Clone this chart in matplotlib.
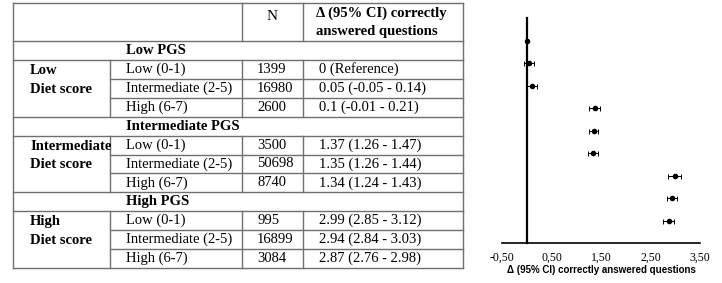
import matplotlib.pyplot as plt
from matplotlib.ticker import FuncFormatter

# table content
pgs_groups = ['Low PGS', 'Intermediate PGS', 'High PGS']
diet_groups = ['Low', 'Intermediate', 'High']
diet_levels = ['Low (0-1)', 'Intermediate (2-5)', 'High (6-7)']
n_values = [1399, 16980, 2600, 3500, 50698, 8740, 995, 16899, 3084]
estimates = [0, 0.05, 0.1, 1.37, 1.35, 1.34, 2.99, 2.94, 2.87]
ci_low = [0, -0.05, -0.01, 1.26, 1.26, 1.24, 2.85, 2.84, 2.76]
ci_high = [0, 0.14, 0.21, 1.47, 1.44, 1.43, 3.12, 3.03, 2.98]
x_ticks = [-0.5, 0.5, 1.5, 2.5, 3.5]
x_label = 'Δ (95% CI) correctly answered questions'

SERIF = 'Liberation Serif'
W, H = 722, 283

fig = plt.figure(figsize=(W / 100, H / 100), dpi=100)

# --- table, drawn in pixel coordinates ---
tab = fig.add_axes([0, 0, 1, 1])
tab.set_xlim(0, W)
tab.set_ylim(H, 0)
tab.axis('off')

left, c1, c2, c3, right = 13, 110, 242, 303, 463
top, head_bot, bottom = 3, 41, 268
row_h = (bottom - head_bot) / 12
lc = '#707070'


def hline(y, x0, x1):
    tab.plot([x0, x1], [y, y], color=lc, lw=1)


def vline(x, y0, y1):
    tab.plot([x, x], [y0, y1], color=lc, lw=1)


# outer border and header
hline(top, left, right)
hline(bottom, left, right)
vline(left, top, bottom)
vline(right, top, bottom)
hline(head_bot, left, right)
vline(c2, top, head_bot)
vline(c3, top, head_bot)

tab.text((c2 + c3) / 2, 16, 'N', family=SERIF, fontsize=11, ha='center', va='center')
tab.text(316, 13, 'Δ (95% CI) correctly', family=SERIF, fontsize=10.5,
         weight='bold', ha='left', va='center')
tab.text(316, 31, 'answered questions', family=SERIF, fontsize=10.5,
         weight='bold', ha='left', va='center')


def fmt(v):
    return f'{v:g}'


for g, (pgs, diet) in enumerate(zip(pgs_groups, diet_groups)):
    y0 = head_bot + g * 4 * row_h
    # sub-header row
    tab.text(126, y0 + row_h / 2, pgs, family=SERIF, fontsize=10.5,
             weight='bold', ha='left', va='center')
    hline(y0 + row_h, left, right)
    ys = y0 + row_h
    vline(c1, ys, ys + 3 * row_h)
    vline(c2, ys, ys + 3 * row_h)
    vline(c3, ys, ys + 3 * row_h)
    tab.text(30, ys + row_h / 2 + 1, diet, family=SERIF, fontsize=10.5,
             weight='bold', ha='left', va='center')
    tab.text(30, ys + 1.5 * row_h + 1, 'Diet score', family=SERIF, fontsize=10.5,
             weight='bold', ha='left', va='center')
    for r in range(3):
        i = g * 3 + r
        yc = ys + (r + 0.5) * row_h
        if r < 2:
            hline(ys + (r + 1) * row_h, c1, right)
        tab.text(126, yc, diet_levels[r], family=SERIF, fontsize=10.5,
                 ha='left', va='center')
        tab.text(257, yc, str(n_values[i]), family=SERIF, fontsize=10.5,
                 ha='left', va='center')
        if i == 0:
            est = '0 (Reference)'
        else:
            est = f'{fmt(estimates[i])} ({fmt(ci_low[i])} - {fmt(ci_high[i])})'
        tab.text(319, yc, est, family=SERIF, fontsize=10.5, ha='left', va='center')
    if g < 2:
        hline(ys + 3 * row_h, left, right)

# --- forest plot ---
ax = fig.add_axes([502 / W, (H - 243) / H, 198 / W, 225 / H])
ypos = list(range(1, len(estimates) + 1))
err = [[e - lo for e, lo in zip(estimates, ci_low)],
       [hi - e for e, hi in zip(estimates, ci_high)]]
ax.errorbar(estimates, ypos, xerr=err, fmt='o', color='black', ms=3,
            elinewidth=0.7, capsize=1.8, capthick=0.7)
ax.set_xlim(-0.5, 3.5)
ax.set_ylim(10, 0)
ax.spines['top'].set_visible(False)
ax.spines['right'].set_visible(False)
ax.spines['left'].set_position(('data', 0))
ax.spines['left'].set_linewidth(1.6)
ax.spines['bottom'].set_linewidth(1.2)
ax.set_yticks([])
ax.set_xticks(x_ticks)
ax.xaxis.set_major_formatter(FuncFormatter(lambda v, p: f'{v:.2f}'.replace('.', ',')))
ax.tick_params(axis='x', length=0, pad=6)
for lab in ax.get_xticklabels():
    lab.set_family(SERIF)
    lab.set_fontsize(8.5)
ax.set_xlabel(x_label, family='Liberation Sans', weight='bold', fontsize=7, labelpad=1)

fig.savefig('out.png', dpi=100)
